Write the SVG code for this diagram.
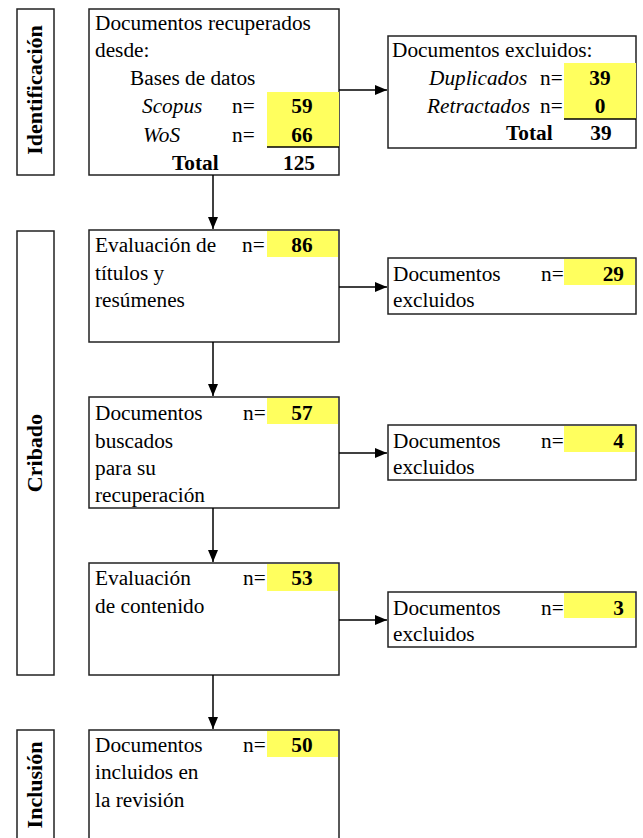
<svg xmlns="http://www.w3.org/2000/svg" width="643" height="838" viewBox="0 0 643 838">
<style>
text{font-family:"Liberation Serif","Times New Roman",serif;font-size:21.3px;fill:#000}
.b{font-weight:bold}
.i{font-style:italic}
.m{text-anchor:middle}
.r{text-anchor:end}
.v{font-size:22px}
.box{fill:#fff;stroke:#222;stroke-width:1.5}
.hl{fill:#ffff5e;stroke:none}
.ln{stroke:#000;stroke-width:1.5;fill:none}
</style>
<defs>
<marker id="ah" markerWidth="12" markerHeight="10" refX="12" refY="5" orient="auto" markerUnits="userSpaceOnUse">
<path d="M0,0 L12,5 L0,10 Z" fill="#000"/>
</marker>
</defs>
<g id="phase-identificacion">
<rect class="box" x="17" y="9" width="37" height="166"/>
<text class="b m v" transform="translate(42,90) rotate(-90)">Identificación</text>
</g>
<g id="phase-cribado">
<rect class="box" x="17" y="231" width="37" height="444"/>
<text class="b m v" transform="translate(42,453) rotate(-90)">Cribado</text>
</g>
<g id="phase-inclusion">
<rect class="box" x="17" y="730" width="37" height="120"/>
<text class="b m v" transform="translate(42,785) rotate(-90)">Inclusión</text>
</g>
<g id="n-recuperados">
<rect class="box" x="89" y="9" width="250" height="166"/>
<rect class="hl" x="267" y="92" width="72" height="55"/>
<line class="ln" x1="267" y1="147" x2="339" y2="147"/>
<text x="95" y="30">Documentos recuperados</text>
<text x="95" y="57">desde:</text>
<text x="130" y="85">Bases de datos</text>
<text class="i" x="142" y="113">Scopus</text>
<text x="232" y="113">n=</text>
<text class="b m" x="302" y="113">59</text>
<text class="i" x="143" y="142">WoS</text>
<text x="232" y="142">n=</text>
<text class="b m" x="302" y="142">66</text>
<text class="b" x="172" y="170">Total</text>
<text class="b m" x="299" y="170">125</text>
</g>
<g id="n-excluidos1">
<rect class="box" x="388" y="36" width="248" height="112"/>
<rect class="hl" x="564" y="63" width="72" height="56"/>
<line class="ln" x1="564" y1="119" x2="636" y2="119"/>
<text x="392" y="57">Documentos excluidos:</text>
<text class="i" x="429" y="85">Duplicados</text>
<text x="540" y="85">n=</text>
<text class="b m" x="600" y="85">39</text>
<text class="i" x="427" y="113">Retractados</text>
<text x="540" y="113">n=</text>
<text class="b m" x="600" y="113">0</text>
<text class="b" x="506" y="140">Total</text>
<text class="b m" x="601" y="140">39</text>
</g>
<g id="n-titulos">
<rect class="box" x="89" y="230" width="250" height="112"/>
<rect class="hl" x="267" y="231" width="71" height="26"/>
<text x="95" y="252">Evaluación de</text>
<text x="95" y="280">títulos y</text>
<text x="95" y="307">resúmenes</text>
<text x="242" y="252">n=</text>
<text class="b m" x="302" y="252">86</text>
</g>
<g id="n-excluidos2">
<rect class="box" x="388" y="258" width="248" height="56"/>
<rect class="hl" x="564" y="259" width="71" height="26"/>
<text x="393" y="281">Documentos</text>
<text x="393" y="307">excluidos</text>
<text x="541" y="281">n=</text>
<text class="b r" x="624" y="281">29</text>
</g>
<g id="n-buscados">
<rect class="box" x="89" y="397" width="250" height="111"/>
<rect class="hl" x="267" y="398" width="71" height="26"/>
<text x="95" y="420">Documentos</text>
<text x="95" y="448">buscados</text>
<text x="95" y="475">para su</text>
<text x="95" y="502">recuperación</text>
<text x="243" y="420">n=</text>
<text class="b m" x="302" y="420">57</text>
</g>
<g id="n-excluidos3">
<rect class="box" x="388" y="425" width="248" height="55"/>
<rect class="hl" x="564" y="426" width="71" height="26"/>
<text x="393" y="448">Documentos</text>
<text x="393" y="474">excluidos</text>
<text x="541" y="448">n=</text>
<text class="b r" x="624" y="448">4</text>
</g>
<g id="n-contenido">
<rect class="box" x="89" y="563" width="250" height="112"/>
<rect class="hl" x="267" y="564" width="71" height="27"/>
<text x="95" y="585">Evaluación</text>
<text x="95" y="613">de contenido</text>
<text x="243" y="585">n=</text>
<text class="b m" x="302" y="585">53</text>
</g>
<g id="n-excluidos4">
<rect class="box" x="388" y="592" width="248" height="55"/>
<rect class="hl" x="564" y="593" width="71" height="25"/>
<text x="393" y="615">Documentos</text>
<text x="393" y="641">excluidos</text>
<text x="541" y="615">n=</text>
<text class="b r" x="624" y="615">3</text>
</g>
<g id="n-incluidos">
<rect class="box" x="89" y="730" width="250" height="120"/>
<rect class="hl" x="267" y="731" width="71" height="26"/>
<text x="95" y="752">Documentos</text>
<text x="95" y="779">incluidos en</text>
<text x="95" y="807">la revisión</text>
<text x="243" y="752">n=</text>
<text class="b m" x="302" y="752">50</text>
</g>
<g id="connectors">
<line class="ln" x1="213" y1="175" x2="213" y2="229" marker-end="url(#ah)"/>
<line class="ln" x1="213" y1="342" x2="213" y2="396" marker-end="url(#ah)"/>
<line class="ln" x1="213" y1="508" x2="213" y2="562" marker-end="url(#ah)"/>
<line class="ln" x1="213" y1="675" x2="213" y2="729" marker-end="url(#ah)"/>
<line class="ln" x1="339" y1="90" x2="387" y2="90" marker-end="url(#ah)"/>
<line class="ln" x1="339" y1="287" x2="387" y2="287" marker-end="url(#ah)"/>
<line class="ln" x1="339" y1="453" x2="387" y2="453" marker-end="url(#ah)"/>
<line class="ln" x1="339" y1="620" x2="387" y2="620" marker-end="url(#ah)"/>
</g>
</svg>
